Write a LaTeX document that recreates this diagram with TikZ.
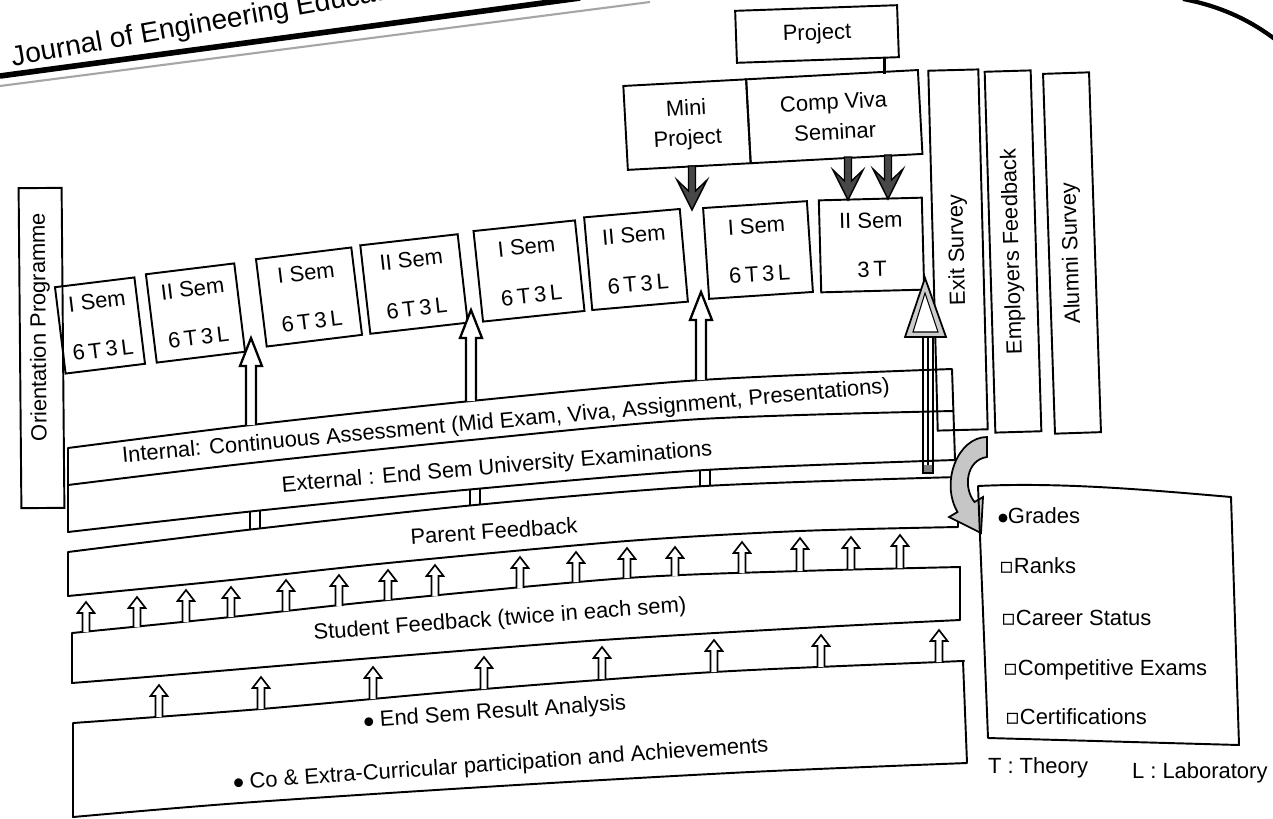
\documentclass[tikz,border=0pt]{standalone}
\usepackage{fontspec}
\setmainfont{Liberation Sans}
\newfontfamily\symf{DejaVu Sans}
\usetikzlibrary{calc}
\newcommand\smallup[3]{\draw[line width=0.95pt,fill=white,line join=miter] (#1-3.5,#2) -- (#1-3.5,#3+11) -- (#1-8.5,#3+11) -- (#1,#3) -- (#1+8.5,#3+11) -- (#1+3.5,#3+11) -- (#1+3.5,#2);}
\newcommand\bigup[3]{\draw[line width=1.3pt,fill=white,line join=miter] (#1-5,#2) -- (#1-5,#3+28) -- (#1-11,#3+28) -- (#1,#3) -- (#1+11,#3+28) -- (#1+5,#3+28) -- (#1+5,#2);}
\newcommand\darkdown[3]{\draw[line width=0.8pt,fill=black!72,line join=miter] (#1-3.5,#2) -- (#1-3.5,#3-19) -- (#1-15,#3-30) -- (#1,#3) -- (#1+15,#3-30) -- (#1+3.5,#3-19) -- (#1+3.5,#2) -- cycle;}
\newcommand\blt{\raisebox{1.6pt}{\symf\fontsize{6.5}{6}\selectfont ●}}
\newcommand\sqr{{\symf ▫}}
\begin{document}
\begin{tikzpicture}[x=0.02cm,y=-0.02cm,
  every node/.style={inner sep=0pt,outer sep=0pt,font=\fontsize{12.5}{15}\selectfont},
  ln/.style={line width=1.1pt,line join=round},
  sz/.style 2 args={minimum width=#1*0.02cm,minimum height=#2*0.02cm},
  boxed/.style={draw,line width=1.1pt},
  sem/.style={boxed,align=center,font=\fontsize{12.5}{27.8}\selectfont},
  twoline/.style={boxed,align=center,font=\fontsize{12.5}{17}\selectfont},
]
\fill[white] (0,0) rectangle (1273,818);
\useasboundingbox (0,0) rectangle (1273,818);
\clip (0,0) rectangle (1273,818);

% ---- page header of the scan
\draw[gray!70,line width=1.2pt] (0,86) -- (650,2);
\draw[line width=3.2pt] (0,76) -- (580,-2);
\node[anchor=base west,rotate=10,font=\fontsize{16}{18}\selectfont] (journal) at (13,66) {Journal of Engineering Education};
\draw[line width=2.4pt] (1183,-1) .. controls (1220,6) and (1250,20) .. (1276,40);

% ---- Orientation
\node[boxed,sz={43}{320},rotate=0.5] (orient) at (41.5,348) {};
\node[rotate=90.5] (orienttxt) at (40,327) {Orientation Programme};

% ---- bands
\draw[ln] plot[smooth,tension=0.5] coordinates {(68,448) (251,425) (471,401) (701,380) (952,369)}
  -- plot[smooth,tension=0.5] coordinates {(955,460) (705,470) (475,489) (255,511) (68,532)} -- cycle;
\draw[ln] plot[smooth,tension=0.5] coordinates {(68,485) (251,463) (471,440) (701,419) (953,411)};
\draw[ln] plot[smooth,tension=0.5] coordinates {(68,552) (255,529) (475,505) (705,486) (958,477)}
  -- plot[smooth,tension=0.5] coordinates {(958,527) (800,531) (627,541) (388,563) (231,580) (68,596)} -- cycle;
\draw[ln] plot[smooth,tension=0.5] coordinates {(72,633) (231,617) (388,600) (627,578) (800,571) (960,567)}
  -- plot[smooth,tension=0.5] coordinates {(960,620) (821,627) (602,640) (373,658) (159,676) (72,683)} -- cycle;
\draw[ln] plot[smooth,tension=0.5] coordinates {(73,723) (261,709) (484,689) (714,672) (939,662) (963,661)}
  -- plot[smooth,tension=0.5] coordinates {(967,763) (750,772) (500,786) (240,803) (73,817)} -- cycle;

\node[rotate=5.2] (internal) at (506,422) {Internal: Continuous Assessment (Mid Exam, Viva, Assignment, Presentations)};
\node[rotate=4.9] (external) at (497,468) {External : End Sem University Examinations};
\node[rotate=4] (parent) at (494,531) {Parent Feedback};
\node[rotate=4.3] (student) at (500,620) {Student Feedback (twice in each sem)};
\node[rotate=4] (endsem) at (495,713) {\blt\ End Sem Result Analysis};
\node[rotate=4] (coextra) at (501,765) {\blt\ Co \& Extra-Curricular participation and Achievements};

% stubs between band A and band B
\draw[line width=0.9pt] (250,512)--(250,530) (260,511)--(260,529)
  (470,490)--(470,506) (480,489)--(480,505)
  (700,471)--(700,487) (710,470)--(710,486);

% small feedback arrows
\foreach \x/\b/\t in {86/632/602,137/627/597,186/622/590,231/617/587,286/611/580,339/606/575,388/600/570,435/596/565,520/588/557,576/582/552,627/578/548,675/576/547,742/573/542,800/571/538,851/569/537,900/568/535}
  {\smallup{\x}{\b}{\t}}
\foreach \x/\b/\t in {159/717/685,261/709/677,373/699/667,484/689/657,602/679/647,714/672/640,821/667/635,939/662/630}
  {\smallup{\x}{\b}{\t}}

% ---- semester boxes
\node[sem,sz={80}{87},rotate=7] (s1) at (100,325.5) {I Sem\\6\,T\,3\,L};
\node[sem,sz={89}{89},rotate=7] (s2) at (195.5,313) {II Sem\\6\,T\,3\,L};
\node[sem,sz={96}{88},rotate=7] (s3) at (309,297) {I Sem\\6\,T\,3\,L};
\node[sem,sz={98}{89},rotate=6.5] (s4) at (414,284) {II Sem\\6\,T\,3\,L};
\node[sem,sz={102}{91},rotate=6] (s5) at (529,271) {I Sem\\6\,T\,3\,L};
\node[sem,sz={96}{93},rotate=5] (s6) at (636,259.5) {II Sem\\6\,T\,3\,L};
\node[sem,sz={104}{91},rotate=3.8] (s7) at (758,250) {I Sem\\6\,T\,3\,L};
\node[sem,sz={103}{92},rotate=1.5] (s8) at (871.5,245) {II Sem\\3\,T};

\bigup{251}{425}{338}
\bigup{471}{401}{310}
\bigup{701}{380}{292}

% ---- project boxes
\node[boxed,sz={162}{52},rotate=2] (project) at (817,34) {Project};
\node[twoline,sz={123}{84},rotate=3.1] (mini) at (687,124.6) {Mini\\Project};
\node[twoline,sz={172}{84},rotate=3.1,anchor=west] (comp) at (mini.east) {Comp Viva\\Seminar};
\coordinate (pj) at ($(project.south east)!0.09!(project.south west)$);
\draw[line width=1.8pt] (pj) -- ++(0,16);
\darkdown{692}{166}{210}
\darkdown{848}{157}{200}
\darkdown{888}{155}{199}

% ---- survey columns
\node[boxed,sz={360}{50},rotate=91.5] (exit) at (958,250) {Exit Survey};
\node[boxed,sz={361}{46},rotate=91.7] (emp) at (1013,251.5) {Employers Feedback};
\node[boxed,sz={360}{46},rotate=91.9] (alu) at (1072,253) {Alumni Survey};

% ---- big hollow arrow to II Sem 3T
\draw[line width=1pt] (923,337) -- (923,473) -- (933,473) -- (933,337);
\draw[line width=0.6pt] (928,337) -- (928,465);
\fill[gray] (924,465) rectangle (932,472);
\draw[line width=1pt,fill=gray!40,line join=miter] (923,337) -- (905,337) -- (925,278) -- (946,337) -- (933,337) -- cycle;
\draw[line width=0.6pt,fill=white] (913,332) -- (925,293) -- (938,332) -- cycle;

% ---- curved arrow to results box
\draw[line width=1pt,fill=gray!45,line join=miter]
  (987,437) .. controls (958,437) and (940,482) .. (957.5,512) -- (949,517) -- (981,533) -- (983,497) -- (974.5,502)
  .. controls (963,488) and (966,460) .. (987,457) -- cycle;

% ---- results box
\draw[ln] (978,486) .. controls (1060,482) and (1150,490) .. (1231,497) -- (1239,745) -- (988,738) -- cycle;
\node[anchor=west] (grades) at (998,516) {\blt Grades};
\node[anchor=west] (ranks) at (999,566) {\sqr Ranks};
\node[anchor=west] (career) at (1001,618) {\sqr Career Status};
\node[anchor=west] (compet) at (1003,670) {\sqr Competitive Exams};
\node[anchor=west] (cert) at (1005,717) {\sqr Certifications};

\node[anchor=west] (theory) at (988,768) {T : Theory};
\node[anchor=west] (lab) at (1132,773) {L : Laboratory};
\end{tikzpicture}
\end{document}
